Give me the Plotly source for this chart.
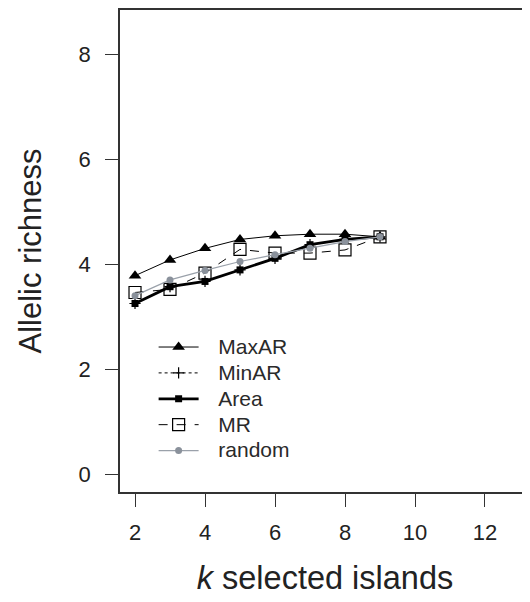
import plotly.graph_objects as go

k = [2, 3, 4, 5, 6, 7, 8, 9]
maxar = [3.78, 4.08, 4.30, 4.47, 4.54, 4.57, 4.57, 4.52]
minar = [3.25, 3.57, 3.67, 3.89, 4.11, 4.37, 4.47, 4.52]
area = [3.25, 3.57, 3.67, 3.89, 4.11, 4.37, 4.47, 4.52]
mr = [3.46, 3.52, 3.83, 4.28, 4.21, 4.21, 4.27, 4.52]
rand = [3.40, 3.70, 3.88, 4.05, 4.18, 4.30, 4.43, 4.52]
names = ["MaxAR", "MinAR", "Area", "MR", "random"]

xticks = [2, 4, 6, 8, 10, 12]
yticks = [0, 2, 4, 6, 8]

FONT = "Liberation Sans, Arial, sans-serif"
SP = "\u00a0\u00a0\u00a0"


def lab(s):
    return SP + "<span style='font-size:21px'>" + s + "</span>"


fig = go.Figure()

fig.add_trace(go.Scatter(x=k, y=maxar, name=lab(names[0]), mode="lines+markers", legendgroup="a",
                         line=dict(color="black", width=1),
                         marker=dict(symbol="triangle-up", size=11, color="black")))
fig.add_trace(go.Scatter(x=k, y=minar, name=lab(names[1]), mode="lines+markers", legendgroup="b",
                         line=dict(color="black", width=1, dash="dot"),
                         marker=dict(symbol="cross-thin", size=8, color="black",
                                     line=dict(color="black", width=1.2))))
fig.add_trace(go.Scatter(x=k, y=area, name=lab(names[2]), mode="lines+markers", legendgroup="c",
                         line=dict(color="black", width=2.8),
                         marker=dict(symbol="square", size=7, color="black")))
fig.add_trace(go.Scatter(x=k, y=mr, name=lab(names[3]), mode="lines+markers", legendgroup="d",
                         line=dict(color="black", width=1, dash="dash"),
                         marker=dict(symbol="square-open", size=12, color="black",
                                     line=dict(color="black", width=1.2))))
fig.add_trace(go.Scatter(x=k, y=rand, name=lab(names[4]), mode="lines+markers", legendgroup="e",
                         line=dict(color="#9aa1aa", width=1.2),
                         marker=dict(symbol="circle", size=7, color="#8a919b")))

fig.update_layout(
    width=522, height=594,
    margin=dict(l=112, r=0, t=0, b=110),
    paper_bgcolor="white", plot_bgcolor="white",
    font=dict(family=FONT, size=20, color="#222"),
    showlegend=True,
    legend=dict(x=0.082, y=0.338, xanchor="left", yanchor="top",
                bgcolor="rgba(0,0,0,0)", font=dict(size=17.6, color="#2a2a2a"),
                tracegroupgap=0, itemwidth=40),
    xaxis=dict(range=[1.571, 13.286], tickvals=xticks, ticks="outside", ticklen=13,
               tickcolor="#333", tickwidth=1.3, showgrid=False, zeroline=False,
               showline=True, linecolor="#333", linewidth=1.5, mirror=True,
               tickfont=dict(size=22, color="#222"), ticklabelstandoff=7,
               title=dict(text="<i>k</i> selected islands", font=dict(size=32.5, color="#222"), standoff=22)),
    yaxis=dict(range=[-0.34, 8.84], tickvals=yticks, ticks="outside", ticklen=13,
               tickcolor="#333", tickwidth=1.3, showgrid=False, zeroline=False,
               showline=True, linecolor="#333", linewidth=1.5, mirror=False,
               tickfont=dict(size=22, color="#222"), ticklabelstandoff=10,
               title=dict(text="Allelic richness", font=dict(size=31, color="#222"), standoff=28)),
)

fig.write_html("out.html")
